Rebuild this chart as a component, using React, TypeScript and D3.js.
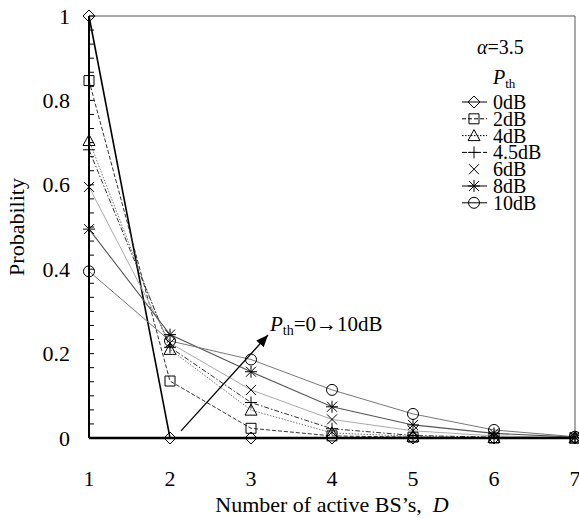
import * as d3 from 'd3';

// number of active BS's
const D = [1, 2, 3, 4, 5, 6, 7];

// probability for each threshold P_th
const p0dB = [1.0, 0.0, 0.0, 0.0, 0.0, 0.0, 0.0];
const p2dB = [0.847, 0.135, 0.023, 0.005, 0.002, 0.0, 0.0];
const p4dB = [0.705, 0.21, 0.066, 0.012, 0.004, 0.001, 0.0];
const p45dB = [0.683, 0.215, 0.084, 0.022, 0.006, 0.002, 0.0];
const p6dB = [0.595, 0.225, 0.114, 0.044, 0.017, 0.005, 0.001];
const p8dB = [0.495, 0.245, 0.157, 0.074, 0.031, 0.011, 0.002];
const p10dB = [0.395, 0.23, 0.186, 0.114, 0.057, 0.019, 0.003];

const seriesNames = ['0dB', '2dB', '4dB', '4.5dB', '6dB', '8dB', '10dB'];
const seriesValues = [p0dB, p2dB, p4dB, p45dB, p6dB, p8dB, p10dB];

const yTickValues = [0, 0.2, 0.4, 0.6, 0.8, 1];
const yTickLabels = ['0', '0.2', '0.4', '0.6', '0.8', '1'];
const yMinorStep = 0.2 / 6;

// annotation arrow (data coords)
const arrowFrom = [2.136, 0.017];
const arrowTo = [3.21, 0.244];

const width = 579, height = 518;
const margin = { top: 16, right: 4, bottom: 80, left: 89 };
const font = '"Liberation Serif", "Times New Roman", serif';

const styles = [
  { stroke: '#000', width: 1.6, dash: '', marker: 'diamond' },
  { stroke: '#333', width: 1, dash: '4,2', marker: 'square' },
  { stroke: '#777', width: 1, dash: '1.5,1.5', marker: 'triangle' },
  { stroke: '#333', width: 1, dash: '5,2,1.5,2', marker: 'plus' },
  { stroke: '#aaa', width: 1, dash: '', marker: 'cross' },
  { stroke: '#555', width: 1.1, dash: '', marker: 'star' },
  { stroke: '#777', width: 1, dash: '', marker: 'circle' },
];

function Marker({ type, x, y }: { type: string; x: number; y: number }) {
  const common = { fill: 'none', stroke: '#000', strokeWidth: 1 };
  const t = `translate(${x},${y})`;
  if (type === 'circle') return <circle cx={x} cy={y} r={5.5} {...common} />;
  let d = '';
  if (type === 'diamond') d = 'M0,-6L6,0L0,6L-6,0Z';
  if (type === 'square') d = 'M-5,-5H5V5H-5Z';
  if (type === 'triangle') d = 'M0,-6L6,5H-6Z';
  if (type === 'plus') d = 'M-6,0H6M0,-6V6';
  if (type === 'cross') d = 'M-5,-5L5,5M5,-5L-5,5';
  if (type === 'star') d = 'M-5,-5L5,5M5,-5L-5,5M0,-6V6M-6,0H6';
  return <path d={d} transform={t} {...common} />;
}

export default function App() {
  const x = d3.scaleLinear().domain([1, 7]).range([margin.left, width - margin.right]);
  const y = d3.scaleLinear().domain([0, 1]).range([height - margin.bottom, margin.top]);
  const line = d3.line<number>().x((_, i) => x(D[i])).y(v => y(v));
  const minor = d3.range(0, 1 + 1e-9, yMinorStep);

  const legX = 474, legY0 = 102, legStep = 16.8;

  return (
    <svg width={width} height={height} style={{ position: 'absolute', left: 0, top: 0, background: '#fff' }}
      fontFamily={font}>
      <defs>
        <marker id="ah" viewBox="0 0 12 10" refX="12" refY="5" markerWidth="12" markerHeight="10"
          markerUnits="userSpaceOnUse" orient="auto">
          <path d="M0,0L12,5L0,10Z" fill="#000" />
        </marker>
      </defs>

      {/* frame */}
      <line x1={x(1)} x2={x(7)} y1={y(1)} y2={y(1)} stroke="#555" strokeWidth={1} />
      <line x1={x(7)} x2={x(7)} y1={y(1)} y2={y(0)} stroke="#555" strokeWidth={1} />

      {/* series lines */}
      {seriesValues.map((vals, i) => (
        <path key={'l' + i} d={line(vals) || ''} fill="none" stroke={styles[i].stroke}
          strokeWidth={styles[i].width} strokeDasharray={styles[i].dash || undefined} />
      ))}

      {/* axes */}
      <line x1={x(1)} x2={x(1)} y1={y(1)} y2={y(0)} stroke="#000" strokeWidth={2} />
      {minor.map((v, i) => (
        <line key={'t' + i} x1={x(1)} x2={x(1) + 5} y1={y(v)} y2={y(v)} stroke="#000" strokeWidth={1} />
      ))}
      <line x1={x(1)} x2={x(7)} y1={y(0)} y2={y(0)} stroke="#000" strokeWidth={2.5} />

      {/* markers */}
      {seriesValues.map((vals, i) =>
        vals.map((v, j) => <Marker key={`m${i}-${j}`} type={styles[i].marker} x={x(D[j])} y={y(v)} />)
      )}

      {/* tick labels */}
      {yTickValues.map((v, i) => (
        <text key={'yl' + i} x={70} y={y(v)} textAnchor="end" dominantBaseline="central" fontSize={22}>
          {yTickLabels[i]}
        </text>
      ))}
      {D.map(d => (
        <text key={'xl' + d} x={x(d)} y={486} textAnchor="middle" fontSize={22}>{d}</text>
      ))}

      {/* axis titles */}
      <text x={(x(1) + x(7)) / 2} y={512} textAnchor="middle" fontSize={22}>
        Number of active BS’s,{'\u00a0\u00a0'}<tspan fontStyle="italic">D</tspan>
      </text>
      <text transform={`translate(24,${(y(0) + y(1)) / 2}) rotate(-90)`} textAnchor="middle" fontSize={22}>
        Probability
      </text>

      {/* arrow annotation */}
      <line x1={x(arrowFrom[0])} y1={y(arrowFrom[1])} x2={x(arrowTo[0])} y2={y(arrowTo[1])}
        stroke="#000" strokeWidth={1.3} markerEnd="url(#ah)" />
      <text x={270} y={331} fontSize={21}>
        <tspan fontStyle="italic">P</tspan>
        <tspan fontSize={14} dy={4}>th</tspan>
        <tspan dy={-4}>=0→10dB</tspan>
      </text>

      {/* legend */}
      <text x={477} y={54} fontSize={20}>
        <tspan fontStyle="italic">α</tspan>=3.5
      </text>
      <text x={493} y={84} fontSize={20}>
        <tspan fontStyle="italic">P</tspan>
        <tspan fontSize={13} dy={4}>th</tspan>
      </text>
      {seriesNames.map((name, i) => {
        const ly = legY0 + i * legStep;
        return (
          <g key={'lg' + i}>
            <line x1={legX - 12} x2={legX + 13} y1={ly} y2={ly} stroke={styles[i].stroke === '#aaa' ? '#fff' : '#000'}
              strokeWidth={1} strokeDasharray={styles[i].dash || undefined} />
            <Marker type={styles[i].marker} x={legX} y={ly} />
            <text x={493} y={ly} dominantBaseline="central" fontSize={20}>{name}</text>
          </g>
        );
      })}
    </svg>
  );
}
